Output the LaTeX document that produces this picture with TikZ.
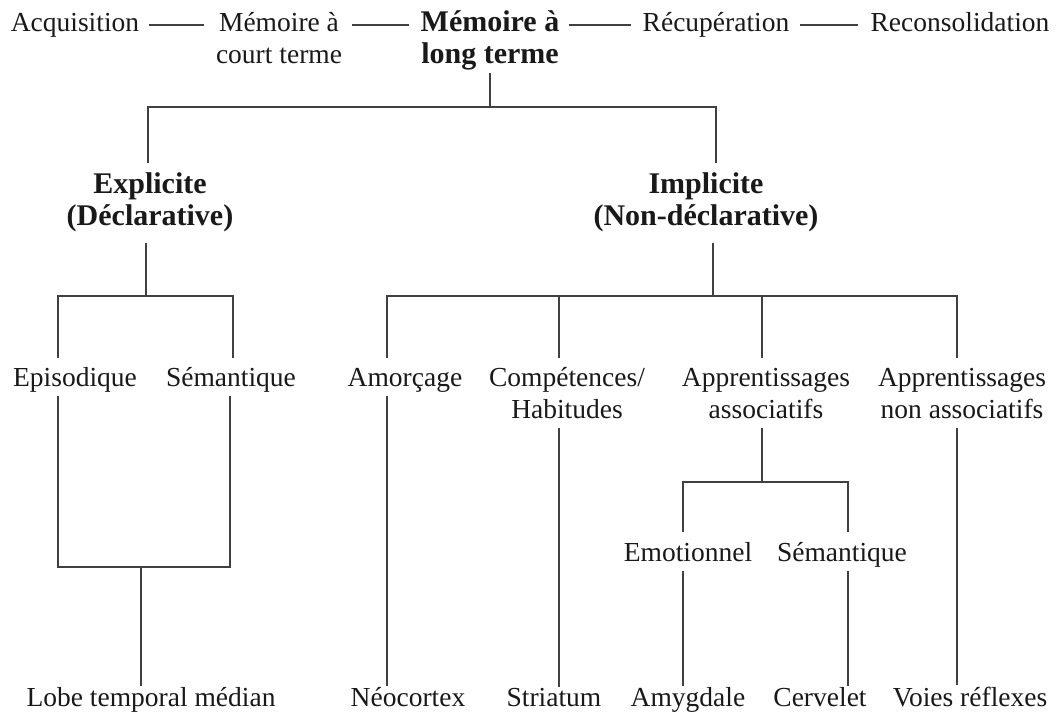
\documentclass[tikz,border=0pt]{standalone}
\usepackage{fontspec}
\setmainfont{Liberation Serif}
\begin{document}
\begin{tikzpicture}[x=1pt,y=-1pt,
  lbl/.style={inner sep=0pt, align=center, text=black!90, font=\fontsize{27.5}{32}\selectfont},
  bld/.style={lbl, font=\fontsize{30}{32}\selectfont\bfseries},
  wire/.style={draw=black!75, line width=1.7pt},
  hwire/.style={wire, shorten <=10pt, shorten >=12pt}
]
\useasboundingbox[fill=white] (0,0) rectangle (1057,713);

% top row
\node[lbl] (acq)    at (75,25)  {\strut Acquisition};
\node[lbl] (mct)    at (279,41) {\strut Mémoire à\\\strut court terme};
\node[bld] (mlt)    at (490,41) {\strut Mémoire à\\\strut long terme};
\node[lbl] (recup)  at (716,25) {\strut Récupération};
\node[lbl] (recons) at (960,25) {\strut Reconsolidation};

% level 1
\node[bld] (expl) at (150,203) {\strut Explicite\\\strut (Déclarative)};
\node[bld] (impl) at (706,203) {\strut Implicite\\\strut (Non-déclarative)};

% level 2
\node[lbl] (episo) at (75,380)  {\strut Episodique};
\node[lbl] (semA)  at (231,380) {\strut Sémantique};
\node[lbl] (amorc) at (405,380) {\strut Amorçage};
\node[lbl] (comp)  at (567,396) {\strut Compétences/\\\strut Habitudes};
\node[lbl] (appA)  at (766,396) {\strut Apprentissages\\\strut associatifs};
\node[lbl] (appN)  at (962,396) {\strut Apprentissages\\\strut non associatifs};

% level 3
\node[lbl] (emo)  at (688,555) {\strut Emotionnel};
\node[lbl] (semB) at (842,555) {\strut Sémantique};

% bottom row (placed on the baseline)
\node[lbl, anchor=base] (lobe)  at (151,706) {Lobe temporal médian};
\node[lbl, anchor=base] (neo)   at (408,706) {Néocortex};
\node[lbl, anchor=base] (stri)  at (554,706) {Striatum};
\node[lbl, anchor=base] (amy)   at (688,706) {Amygdale};
\node[lbl, anchor=base] (cerv)  at (820,706) {Cervelet};
\node[lbl, anchor=base] (voies) at (970,706) {Voies réflexes};

% junction coordinates
\coordinate (bE) at (148,107);
\coordinate (bI) at (716,107);
\coordinate (cE) at (146,296);
\coordinate (cE1) at (58,296);
\coordinate (cE2) at (233,296);
\coordinate (dE) at (141,567);
\coordinate (dE1) at (58,567);
\coordinate (dE2) at (230,567);
\coordinate (cI) at (713,296);
\coordinate (i1) at (387,296);
\coordinate (i2) at (559,296);
\coordinate (i3) at (762,296);
\coordinate (i4) at (957,296);
\coordinate (aB) at (762,482);
\coordinate (aB1) at (683,482);
\coordinate (aB2) at (848,482);

% top row connectors
\draw[hwire] (acq.east) -- (acq.east -| mct.west);
\draw[hwire] (mct.east |- acq.east) -- (mlt.west |- acq.east);
\draw[hwire] (mlt.east |- acq.east) -- (recup.west);
\draw[hwire] (recup.east) -- (recons.west);

% long-term memory split
\draw[wire] (mlt.south) -- (mlt.south |- bE);
\draw[wire, shorten <=8pt, shorten >=8pt] (bE |- expl.north) -- (bE) -- (bI) -- (bI |- impl.north);

% explicit branch
\draw[wire, shorten <=8pt] (cE |- expl.south) -- (cE);
\draw[wire, shorten <=6pt, shorten >=6pt] (cE1 |- episo.north) -- (cE1) -- (cE2) -- (cE2 |- semA.north);
\draw[wire] (dE1 |- episo.south) -- (dE1) -- (dE2) -- (dE2 |- semA.south);
\draw[wire, shorten >=1pt] (dE) -- (dE |- lobe.north);

% implicit branch
\draw[wire, shorten <=8pt] (cI |- impl.south) -- (cI);
\draw[wire, shorten <=6pt, shorten >=6pt] (i1 |- amorc.north) -- (i1) -- (i4) -- (i4 |- appN.north);
\draw[wire, shorten >=6pt] (i2) -- (i2 |- comp.north);
\draw[wire, shorten >=6pt] (i3) -- (i3 |- appA.north);
\draw[wire, shorten >=1pt] (i1 |- amorc.south) -- (i1 |- neo.north);
\draw[wire, shorten >=1pt] (i2 |- comp.south) -- (i2 |- stri.north);
\draw[wire, shorten >=1pt] (i4 |- appN.south) -- (i4 |- voies.north);

% associative learning
\draw[wire] (i3 |- appA.south) -- (aB);
\draw[wire, shorten <=7pt, shorten >=7pt] (aB1 |- emo.north) -- (aB1) -- (aB2) -- (aB2 |- semB.north);
\draw[wire, shorten >=1pt] (aB1 |- emo.south) -- (aB1 |- amy.north);
\draw[wire, shorten >=1pt] (aB2 |- semB.south) -- (aB2 |- cerv.north);
\end{tikzpicture}
\end{document}
